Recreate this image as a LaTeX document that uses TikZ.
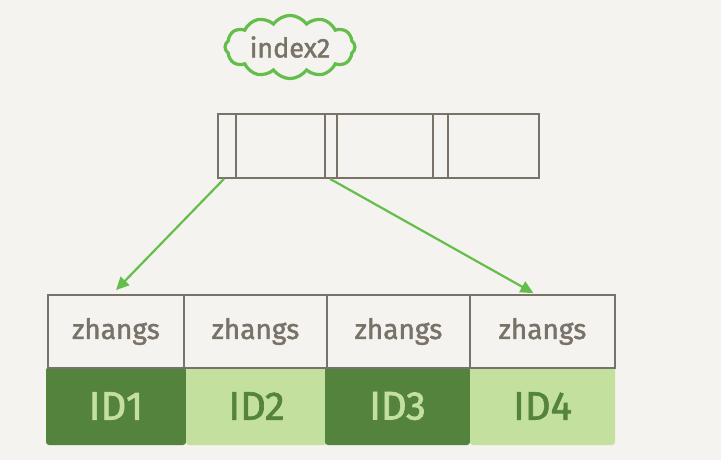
\documentclass[tikz,border=0pt]{standalone}
\usepackage{fontspec}
\newfontfamily\handfont[FakeBold=1.6]{Fira Sans}
\usetikzlibrary{shapes.symbols, arrows.meta}

\definecolor{paper}{RGB}{245,243,239}
\definecolor{inkgray}{RGB}{120,114,104}
\definecolor{leafgreen}{RGB}{100,190,76}
\definecolor{darkleaf}{RGB}{84,131,62}
\definecolor{lightleaf}{RGB}{196,224,158}

\begin{document}
\begin{tikzpicture}[x=1pt, y=-1pt, every node/.style={font=\handfont},
    cell/.style={draw=inkgray, line width=1.7pt, inner sep=0pt},
    idcell/.style={inner sep=0pt, rounded corners=3pt},
    pointer/.style={draw=leafgreen, line width=2.2pt, -{Triangle[length=13pt, width=12pt]}}]

    % === Canvas ===
    \fill[paper] (0,0) rectangle (721,460);

    % === Index name ===
    \node[cloud, cloud puffs=12, cloud puff arc=110, aspect=2.3,
        draw=leafgreen, line width=3.2pt, inner sep=0pt,
        minimum width=130pt, minimum height=58pt,
        text=inkgray, font=\handfont\fontsize{27}{30}\selectfont] (name) at (290,47) {index2};

    % === Root page: pointer / key cells ===
    \foreach \c/\xl/\xr in {ptrA/218/236, keyA/236/325, ptrB/325/337,
                            keyB/337/433, ptrC/433/448, keyC/448/539}
        \node[cell, minimum width=\xr-\xl, minimum height=64] (\c) at ({(\xl+\xr)/2},146) {};

    % === Leaf page: ids ===
    \foreach \i/\xl/\xr/\bg/\fg in {1/46/186/darkleaf/lightleaf, 2/186/327/lightleaf/darkleaf,
                                   3/325/470/darkleaf/lightleaf, 4/470/615/lightleaf/darkleaf}
        \node[idcell, fill=\bg, text=\fg, minimum width=\xr-\xl, minimum height=78,
            font=\handfont\fontsize{40}{44}\selectfont] (id\i) at ({(\xl+\xr)/2},406) {ID\i};

    % === Leaf page: names ===
    \foreach \i/\xl/\xr in {1/48/184, 2/184/327, 3/327/470, 4/470/615}
        \node[cell, fill=paper, text=inkgray, minimum width=\xr-\xl, minimum height=73,
            font=\handfont\fontsize{28}{30}\selectfont] (key\i) at ({(\xl+\xr)/2},331.5) {zhangs};

    % === Pointers ===
    \draw[pointer] ([xshift=-3]ptrA.south) -- ([yshift=4]key1.north);
    \draw[pointer] ([xshift=-1]ptrB.south) -- ([xshift=-9,yshift=1]key4.north);

\end{tikzpicture}
\end{document}
